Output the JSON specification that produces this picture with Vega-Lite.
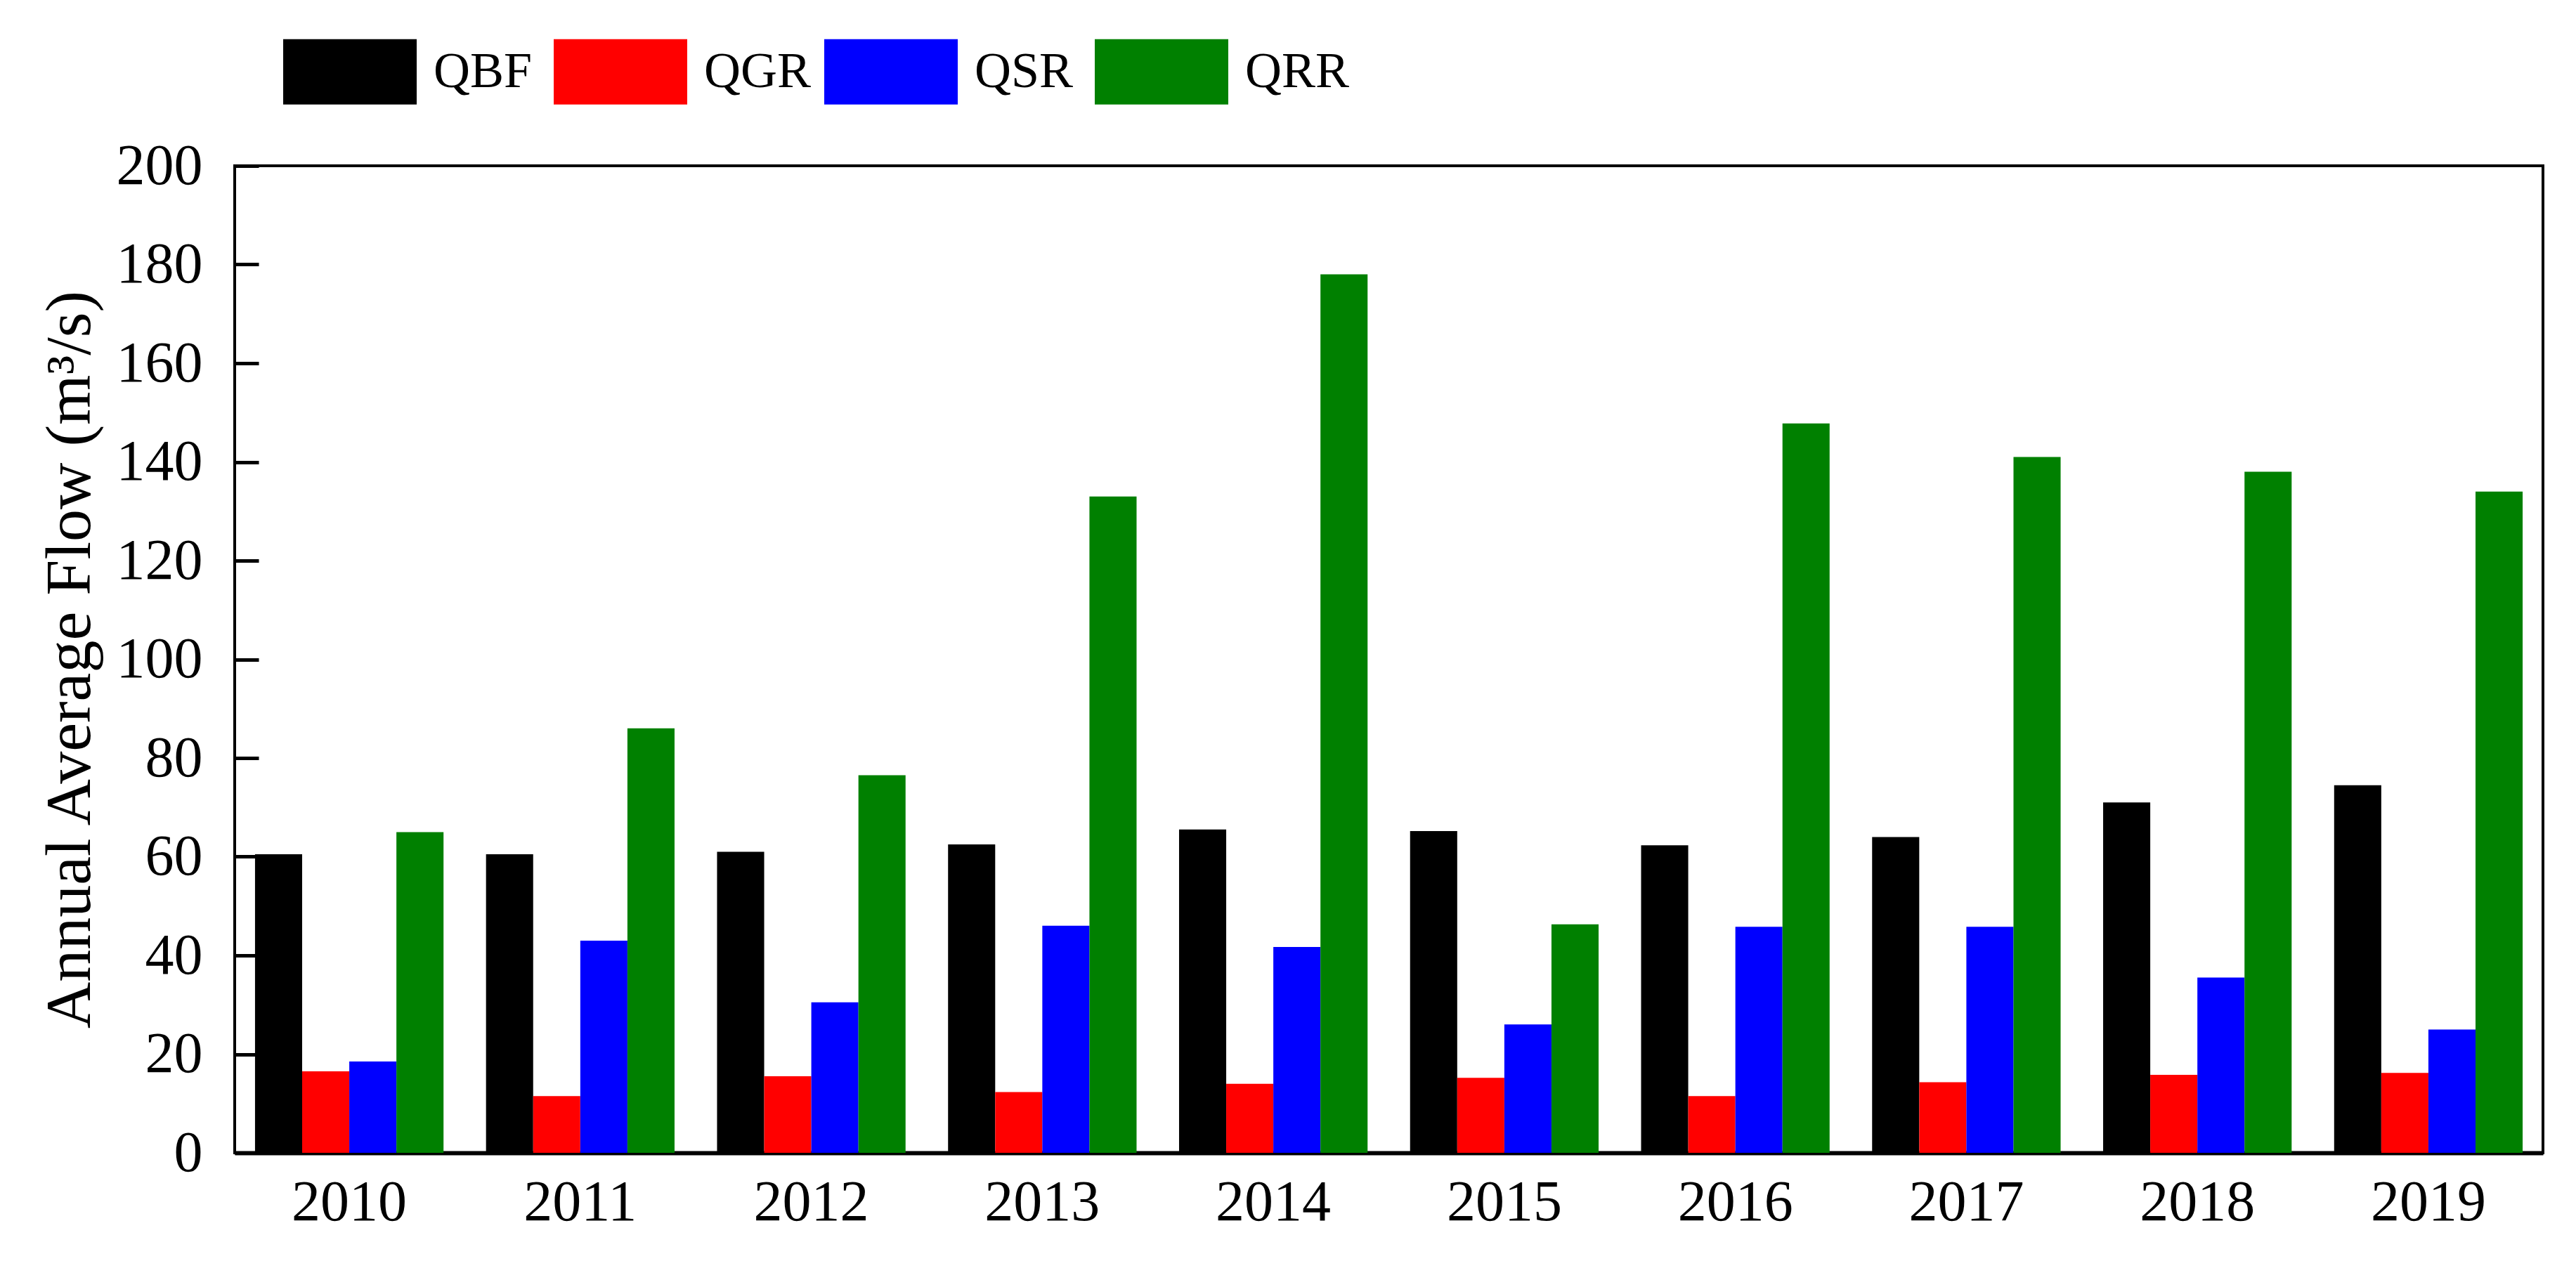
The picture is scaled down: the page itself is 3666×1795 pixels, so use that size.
{
  "$schema": "https://vega.github.io/schema/vega-lite/v6.json",
  "width": 3285,
  "height": 1405,
  "autosize": {"type": "none"},
  "padding": {"left": 334, "top": 236, "right": 47, "bottom": 154},
  "background": "white",
  "data": {
    "values": [
      {"year": "2010", "series": "QBF", "flow": 60.5},
      {"year": "2010", "series": "QGR", "flow": 16.5},
      {"year": "2010", "series": "QSR", "flow": 18.5},
      {"year": "2010", "series": "QRR", "flow": 65},
      {"year": "2011", "series": "QBF", "flow": 60.5},
      {"year": "2011", "series": "QGR", "flow": 11.5},
      {"year": "2011", "series": "QSR", "flow": 43},
      {"year": "2011", "series": "QRR", "flow": 86},
      {"year": "2012", "series": "QBF", "flow": 61},
      {"year": "2012", "series": "QGR", "flow": 15.5},
      {"year": "2012", "series": "QSR", "flow": 30.5},
      {"year": "2012", "series": "QRR", "flow": 76.5},
      {"year": "2013", "series": "QBF", "flow": 62.5},
      {"year": "2013", "series": "QGR", "flow": 12.3},
      {"year": "2013", "series": "QSR", "flow": 46},
      {"year": "2013", "series": "QRR", "flow": 133},
      {"year": "2014", "series": "QBF", "flow": 65.5},
      {"year": "2014", "series": "QGR", "flow": 14},
      {"year": "2014", "series": "QSR", "flow": 41.7},
      {"year": "2014", "series": "QRR", "flow": 178},
      {"year": "2015", "series": "QBF", "flow": 65.2},
      {"year": "2015", "series": "QGR", "flow": 15.2},
      {"year": "2015", "series": "QSR", "flow": 26},
      {"year": "2015", "series": "QRR", "flow": 46.3},
      {"year": "2016", "series": "QBF", "flow": 62.3},
      {"year": "2016", "series": "QGR", "flow": 11.5},
      {"year": "2016", "series": "QSR", "flow": 45.8},
      {"year": "2016", "series": "QRR", "flow": 147.8},
      {"year": "2017", "series": "QBF", "flow": 64},
      {"year": "2017", "series": "QGR", "flow": 14.3},
      {"year": "2017", "series": "QSR", "flow": 45.8},
      {"year": "2017", "series": "QRR", "flow": 141},
      {"year": "2018", "series": "QBF", "flow": 71},
      {"year": "2018", "series": "QGR", "flow": 15.8},
      {"year": "2018", "series": "QSR", "flow": 35.5},
      {"year": "2018", "series": "QRR", "flow": 138},
      {"year": "2019", "series": "QBF", "flow": 74.5},
      {"year": "2019", "series": "QGR", "flow": 16.2},
      {"year": "2019", "series": "QSR", "flow": 25},
      {"year": "2019", "series": "QRR", "flow": 134}
    ]
  },
  "mark": {"type": "bar"},
  "encoding": {
    "x": {
      "field": "year",
      "type": "nominal",
      "scale": {"paddingInner": 0.184, "paddingOuter": 0.088},
      "axis": {
        "title": null,
        "labelAngle": 0,
        "labelFont": "Liberation Serif",
        "labelFontSize": 82,
        "labelColor": "black",
        "ticks": false,
        "domainColor": "black",
        "domainWidth": 6,
        "labelPadding": 30
      }
    },
    "xOffset": {
      "field": "series",
      "type": "nominal",
      "sort": ["QBF", "QGR", "QSR", "QRR"],
      "scale": {"paddingInner": 0, "paddingOuter": 0}
    },
    "y": {
      "field": "flow",
      "type": "quantitative",
      "scale": {"domain": [0, 200], "nice": false},
      "axis": {
        "values": [0, 20, 40, 60, 80, 100, 120, 140, 160, 180, 200],
        "title": "Annual Average Flow (m³/s)",
        "grid": false,
        "zindex": 1,
        "ticks": true,
        "tickSize": -34,
        "tickColor": "black",
        "tickWidth": 5,
        "tickOpacity": 1,
        "domainColor": "black",
        "domainWidth": 3,
        "labelFont": "Liberation Serif",
        "labelFontSize": 82,
        "labelColor": "black",
        "labelPadding": 80,
        "titleFont": "Liberation Serif",
        "titleFontSize": 92,
        "titleFontWeight": "normal",
        "titleColor": "black",
        "titleX": -207,
        "titleBaseline": "alphabetic"
      }
    },
    "color": {
      "field": "series",
      "type": "nominal",
      "scale": {
        "domain": ["QBF", "QGR", "QSR", "QRR"],
        "range": ["#000000", "#ff0000", "#0000ff", "#008000"]
      },
      "legend": {
        "title": null,
        "orient": "none",
        "legendX": 69,
        "legendY": -229,
        "direction": "horizontal",
        "symbolType": "M-1,-0.49H1V0.49H-1Z",
        "symbolSize": 36100,
        "symbolStrokeWidth": 0,
        "symbolOpacity": 1,
        "labelFont": "Liberation Serif",
        "labelFontSize": 72,
        "labelColor": "black",
        "labelLimit": 400,
        "labelOffset": 24,
        "columnPadding": 18,
        "gridAlign": "all"
      }
    }
  },
  "config": {
    "view": {"stroke": "black", "strokeWidth": 4},
    "axis": {"ticks": true}
  }
}
